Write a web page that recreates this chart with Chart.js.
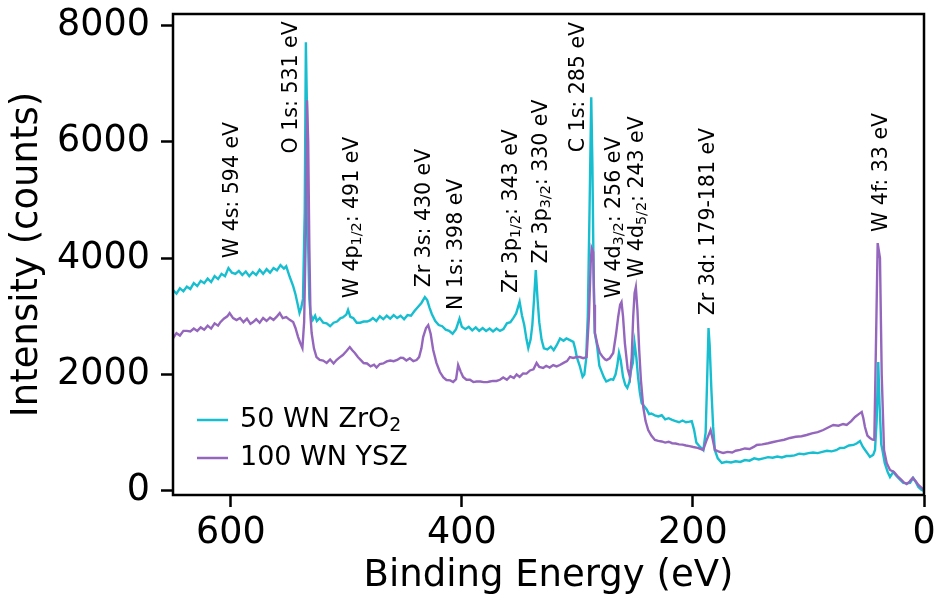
<!DOCTYPE html>
<html>
<head>
<meta charset="utf-8">
<script src="https://cdn.jsdelivr.net/npm/chart.js@4.4.0/dist/chart.umd.min.js"></script>
<style>
  body { margin: 0; background: #fff; }
</style>
</head>
<body>
<canvas id="xpsChart" width="935" height="599"></canvas>
<script>
// ---- data ----
var zrEnergy = [650,647,644,641,638,635,632,629,626,623,620,617,614,611,608,605,602,599,596,593,590,587,584,581,578,575,572,569,566,563,560,557,554,552,549,546,544,542,540.5,539,537.5,536,535,534,533,532,531,529,527,525.5,523,520,517,514,511,508,505,503,500,498.5,496.5,494,491,488,485,482,479.5,477,474,471,468,465,462,459,456,453,450,447,444,441,438,435,432,430,428,426,423,420,417,414,411,408,405,402,400,397,394,391,388,385,382,379,376,373,370,367,364,361,358,355.5,353,350,348,346,344,342.5,340.5,339,337.5,336,334.5,333,331,329,326,323,320.5,318,315,312,309.5,306.5,303.5,302,300.5,298,295.5,294,292.5,291,289.5,288,287,286,285,283,281,279,277,275,273,271,269,267,265.5,264,262.5,260.5,258.5,256.8,255,253.5,252,250.5,249,247.5,246,244.4,242,240,238,236,233,230,227,224,221,218,215,212,209,206,203,201,199,197,194,191,189,188,186.5,185.5,184,182.5,181,178.5,175,171,167,163,159,155,151,147,143,139,135,131,127,123,119,116,112,108,104,100,96,92,88,84,80,76,72.7,69,65,61,58,55.4,53,51,48,46.8,44,42.4,41,39.6,38.5,37,36,34,31.5,29.4,26.6,24,21,17.9,15,12.1,9.3,7,4.9,2,0];
var zrCounts = [3450,3390,3480,3430,3510,3470,3570,3520,3610,3570,3650,3590,3690,3640,3730,3690,3830,3750,3730,3780,3710,3770,3690,3760,3710,3800,3730,3810,3750,3830,3790,3880,3820,3860,3680,3520,3380,3200,3060,3150,3300,4800,7710,6500,4200,3300,3050,2940,3010,2920,2970,2890,2880,2830,2890,2910,2970,2980,3030,3110,2990,2970,2890,2890,2910,2910,2930,2970,2920,3000,2950,3010,2960,3020,2970,3010,2950,3020,3010,3090,3160,3230,3330,3280,3150,3040,2920,2850,2830,2770,2750,2700,2780,2960,2820,2780,2820,2760,2810,2750,2800,2750,2790,2740,2790,2750,2780,2880,2900,2970,3050,3250,3020,2850,2600,2455,2600,2850,3300,3795,3300,2900,2600,2450,2430,2480,2420,2500,2620,2580,2620,2590,2560,2450,2300,2150,1960,2000,2250,3000,4800,6765,5600,3800,2720,2500,2150,2050,1950,1880,1900,1920,1910,2000,2150,2370,2250,1960,1820,1770,1870,2080,2200,2540,2300,1960,1700,1510,1450,1400,1320,1330,1300,1280,1300,1230,1250,1220,1200,1180,1210,1180,1190,1200,1050,830,760,700,1000,1690,2799,2500,1730,1100,700,560,480,500,490,510,498,530,520,560,540,560,580,570,590,575,600,600,610,640,630,650,660,650,670,690,680,700,738,740,780,790,820,858,760,704,620,584,620,704,1200,2215,1500,800,704,480,330,240,326,260,200,137,130,137,223,150,69,17,0];

var yszEnergy = [650,647,644,641,638,635,632,629,626,623,620,617,614,611,609,606,603,601,598,595,592,589,586,583,580.7,578,575,572,569,566,563,560,557.6,555,552,549,546,544,541.7,540,538,536.5,535,534,533,532,531,530,528,525.8,523,520,517,514,511,508.5,506,503,500,497,495,492.6,490,487,485,482,479,476,473.8,471,468,465,462,459,456,453,450.8,448,445,442,439.2,437,435,433.5,431,429.1,427,424.8,422,419,416,413.3,410,407.5,405,403.2,401,398.9,396,393,390,387.3,384,381,378,375.8,373,370,367,364.2,361,358,355,352.6,350,347,344,341,338,335.3,333,329.6,327,324,320.9,318,315.2,312,309,306.5,303.6,300.5,297.8,295,292,290,288.5,287.7,286.3,285.5,284.8,282.5,280.5,278,276,274.7,272,269,266.5,264.7,263,261.8,260.5,258.9,256.5,254.5,253,251.7,250.5,249.4,248,246.5,245,243,241,238.7,236,232.9,230,227,224,221,218,215,212,209,206,203,199.7,196,193,191.1,188.1,184.7,183,181,178,175,173.8,170,166,163,159.3,155,151,147,144.8,140,135,130.5,126,121,116,111,106,101.6,97,92,87.2,83,78.5,74,70,66.9,63,59.7,56.5,53.9,52.5,51.1,49,46.8,44.5,43,41.6,40.1,38.1,36.6,34.6,32.3,29.4,26,22.3,20,17.9,15,12.5,9.8,7,4.9,2,0];
var yszCounts = [2620,2710,2670,2750,2750,2740,2790,2750,2810,2770,2840,2790,2880,2840,2900,2960,3000,3056,2970,2936,2970,2900,2960,2870,2902,2950,2890,2970,2920,2980,2940,3000,3056,2970,2988,2940,2902,2800,2644,2550,2455,2900,4500,6713,6000,4200,3000,2713,2450,2300,2250,2240,2200,2260,2190,2249,2290,2335,2400,2472,2420,2370,2300,2240,2198,2190,2140,2170,2120,2180,2190,2225,2240,2230,2250,2290,2284,2240,2280,2230,2249,2300,2450,2644,2800,2850,2700,2421,2200,2043,1950,1906,1900,1872,1920,2163,2050,1957,1910,1910,1870,1880,1880,1870,1870,1880,1890,1890,1910,1950,1910,1970,1940,2000,1960,2020,2016,2070,2090,2198,2130,2112,2150,2120,2163,2140,2163,2200,2230,2300,2284,2300,2300,2280,2300,3000,3900,4172,4100,3200,2713,2500,2370,2300,2260,2249,2280,2370,2700,2988,3200,3245,3000,2541,2100,1957,2300,2988,3400,3503,3100,2421,1900,1442,1200,1047,950,876,860,850,830,845,820,815,800,795,780,770,755,740,720,704,876,1047,900,704,680,660,652,670,660,690,704,730,720,760,790,800,820,841,860,880,910,930,940,961,990,1010,1047,1090,1133,1120,1150,1133,1200,1271,1320,1356,1250,1099,950,910,880,876,2500,4258,4000,2000,704,481,360,326,240,200,155,120,160,223,160,103,52,20];

var seriesNames = ['50 WN ZrO_{2}', '100 WN YSZ'];
var seriesColors = ['#17becf', '#9467bd'];

var peakNames = ['W 4s: 594 eV', 'O 1s: 531 eV', 'W 4p_{1/2}: 491 eV', 'Zr 3s: 430 eV', 'N 1s: 398 eV',
  'Zr 3p_{1/2}: 343 eV', 'Zr 3p_{3/2}: 330 eV', 'C 1s: 285 eV', 'W 4d_{3/2}: 256 eV',
  'W 4d_{5/2}: 243 eV', 'Zr 3d: 179-181 eV', 'W 4f: 33 eV'];
var peakEnergy = [598, 547.4, 494.1, 432, 404.6, 357, 331, 299.3, 267.5, 247.4, 186.8, 36.6];
var peakHeight = [4000, 5800, 3310, 3500, 3110, 3400, 3910, 5820, 3310, 3660, 3020, 4450];

var xTicks = [0, 200, 400, 600];
var yTicks = [0, 2000, 4000, 6000, 8000];

var FONT = '"DejaVu Sans"';

// text with _{...} subscripts, drawn from (x, y) on the middle line
function drawRich(ctx, text, x, y, size) {
    var parts = text.split(/_\{([^}]*)\}/);
    var cx = x;
    ctx.textAlign = 'left';
    ctx.textBaseline = 'middle';
    for (var i = 0; i < parts.length; i++) {
        if (!parts[i]) continue;
        var sub = i % 2 === 1;
        var s = sub ? size * 0.7 : size;
        ctx.font = s + 'px ' + FONT;
        ctx.fillText(parts[i], cx, sub ? y + size * 0.22 : y);
        cx += ctx.measureText(parts[i]).width;
    }
}

function toPoints(xs, ys) {
    return xs.map(function(v, i) { return {x: v, y: ys[i]}; });
}

var extras = {
    id: 'extras',
    afterDatasetsDraw: function(chart) {
        var ctx = chart.ctx, a = chart.chartArea;
        var xs = chart.scales.x, ys = chart.scales.y;
        ctx.save();
        ctx.fillStyle = '#000';
        peakNames.forEach(function(t, i) {
            ctx.save();
            ctx.translate(xs.getPixelForValue(peakEnergy[i]), ys.getPixelForValue(peakHeight[i]));
            ctx.rotate(-Math.PI / 2);
            drawRich(ctx, t, 0, 0, 20.5);
            ctx.restore();
        });

        // legend
        seriesNames.forEach(function(name, i) {
            var ly = a.bottom - 75 + i * 38;
            ctx.strokeStyle = seriesColors[i];
            ctx.lineWidth = 2.5;
            ctx.beginPath();
            ctx.moveTo(a.left + 24, ly);
            ctx.lineTo(a.left + 55, ly);
            ctx.stroke();
            ctx.fillStyle = '#000';
            drawRich(ctx, name, a.left + 67, ly, 27);
        });

        // axes frame
        ctx.strokeStyle = '#000';
        ctx.lineWidth = 2.5;
        ctx.strokeRect(a.left, a.top, a.right - a.left, a.bottom - a.top);
        ctx.restore();
    }
};

var tickGrid = {
    drawOnChartArea: false,
    drawTicks: true,
    tickLength: 12,
    tickWidth: 2.5,
    tickColor: '#000'
};

function plainLabel(v) { return String(v); }

new Chart(document.getElementById('xpsChart').getContext('2d'), {
    type: 'line',
    data: {
        datasets: [{
            label: seriesNames[0],
            data: toPoints(zrEnergy, zrCounts),
            borderColor: seriesColors[0],
            borderWidth: 2.4,
            pointRadius: 0,
            order: 2
        }, {
            label: seriesNames[1],
            data: toPoints(yszEnergy, yszCounts),
            borderColor: seriesColors[1],
            borderWidth: 2.4,
            pointRadius: 0,
            order: 1
        }]
    },
    options: {
        responsive: false,
        animation: false,
        layout: { padding: { left: 0, right: 11, top: 14, bottom: 0 } },
        plugins: { legend: { display: false }, tooltip: { enabled: false } },
        scales: {
            x: {
                type: 'linear',
                min: 0,
                max: 650,
                reverse: true,
                grid: tickGrid,
                border: { display: false },
                afterBuildTicks: function(s) { s.ticks = xTicks.map(function(v) { return {value: v}; }); },
                afterFit: function(s) { s.height = 104; s.paddingLeft = 0; s.paddingRight = 0; },
                ticks: { color: '#000', padding: 5, maxRotation: 0, callback: plainLabel,
                         font: { family: FONT, size: 36.5 } },
                title: { display: true, text: 'Binding Energy (eV)', color: '#000', padding: 0,
                         font: { family: FONT, size: 37 } }
            },
            y: {
                type: 'linear',
                min: -70,
                max: 8195,
                grid: tickGrid,
                border: { display: false },
                afterBuildTicks: function(s) { s.ticks = yTicks.map(function(v) { return {value: v}; }); },
                afterFit: function(s) { s.width = 173; s.paddingTop = 0; s.paddingBottom = 0; },
                ticks: { color: '#000', padding: 11, callback: plainLabel,
                         font: { family: FONT, size: 36.5 } },
                title: { display: true, text: 'Intensity (counts)', color: '#000', padding: { top: 5, bottom: 0 },
                         font: { family: FONT, size: 37 } }
            }
        }
    },
    plugins: [extras]
});
</script>
</body>
</html>
